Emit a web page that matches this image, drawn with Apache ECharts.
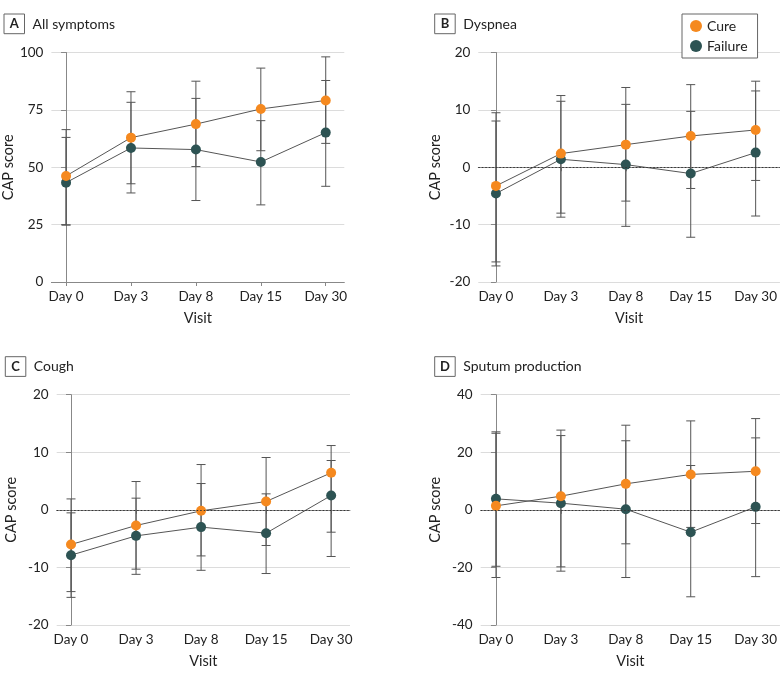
<!DOCTYPE html>
<html>
<head>
<meta charset="utf-8">
<script src="https://cdn.jsdelivr.net/npm/echarts@6/dist/echarts.min.js"></script>
<style>html,body{margin:0;padding:0;background:#fff}#c{width:780px;height:679px}</style>
</head>
<body>
<div id="c"></div>
<script>
const visits = ['Day 0', 'Day 3', 'Day 8', 'Day 15', 'Day 30'];

// Panel A: All symptoms
const cureA = [46.2, 62.9, 68.8, 75.4, 79.1];
const cureALo = [24.9, 42.8, 50.3, 57.2, 60.4];
const cureAHi = [66.4, 82.9, 87.5, 93.2, 98.1];
const failA = [43.3, 58.4, 57.7, 52.3, 65.1];
const failALo = [24.8, 38.8, 35.5, 33.6, 41.7];
const failAHi = [63.0, 78.3, 80.0, 70.3, 87.8];

// Panel B: Dyspnea
const cureB = [-3.25, 2.38, 3.94, 5.45, 6.5];
const cureBLo = [-16.5, -8.0, -5.9, -3.7, -2.3];
const cureBHi = [9.5, 12.5, 13.9, 14.4, 15.0];
const failB = [-4.58, 1.39, 0.46, -1.1, 2.55];
const failBLo = [-17.2, -8.7, -10.3, -12.2, -8.5];
const failBHi = [8.06, 11.5, 10.96, 9.74, 13.3];

// Panel C: Cough
const cureC = [-6.02, -2.72, -0.17, 1.45, 6.43];
const cureCLo = [-14.2, -10.3, -8.0, -6.19, -3.88];
const cureCHi = [1.9, 4.92, 7.87, 9.09, 11.17];
const failC = [-7.87, -4.52, -3.0, -4.05, 2.49];
const failCLo = [-15.2, -11.2, -10.5, -11.06, -8.1];
const failCHi = [-0.52, 2.03, 4.57, 2.78, 8.57];

// Panel D: Sputum production
const cureD = [1.39, 4.75, 9.03, 12.3, 13.4];
const cureDLo = [-23.5, -19.8, -11.8, -6.1, -4.75];
const cureDHi = [26.6, 27.7, 29.4, 30.9, 31.7];
const failD = [3.82, 2.32, 0.23, -7.76, 1.04];
const failDLo = [-19.6, -21.3, -23.5, -30.2, -23.2];
const failDHi = [27.1, 25.8, 24.0, 15.4, 25.0];

const panelLetters = ['A', 'B', 'C', 'D'];
const panelTitles = ['All symptoms', 'Dyspnea', 'Cough', 'Sputum production'];
const yTicks = [[0, 100, 25], [-20, 20, 10], [-20, 20, 10], [-40, 40, 20]];

const ORANGE = '#F5891F', TEAL = '#2D5353', FONT = 'Lato';

const panels = [
  {cure: cureA, cLo: cureALo, cHi: cureAHi, fail: failA, fLo: failALo, fHi: failAHi},
  {cure: cureB, cLo: cureBLo, cHi: cureBHi, fail: failB, fLo: failBLo, fHi: failBHi},
  {cure: cureC, cLo: cureCLo, cHi: cureCHi, fail: failC, fLo: failCLo, fHi: failCHi},
  {cure: cureD, cLo: cureDLo, cHi: cureDHi, fail: failD, fLo: failDLo, fHi: failDHi}
];

const grids = [
  {left: 51, top: 52.5, width: 293.3, height: 229.5},
  {left: 478.3, top: 52.5, width: 301.7, height: 229.5},
  {left: 56.7, top: 394.7, width: 293.3, height: 230.3},
  {left: 480.7, top: 394.7, width: 299.3, height: 230.3}
];
const xRanges = [[-0.226, 4.286], [-0.272, 4.374], [-0.22, 4.29], [-0.235, 4.374]];
const yNameGaps = [31, 35, 38, 37.5];

const xAxes = [], yAxes = [], series = [], graphics = [];
const box = [[4, 14], [434.7, 14], [5.3, 356.7], [434.7, 356.7]];

function errRender(params, api) {
  const x = api.value(0);
  const p1 = api.coord([x, api.value(1)]);
  const p2 = api.coord([x, api.value(2)]);
  const hw = 4.5;
  const st = {stroke: '#555', lineWidth: 1};
  return {
    type: 'group',
    children: [
      {type: 'line', shape: {x1: p1[0], y1: p1[1], x2: p2[0], y2: p2[1]}, style: st},
      {type: 'line', shape: {x1: p1[0] - hw, y1: p1[1], x2: p1[0] + hw, y2: p1[1]}, style: st},
      {type: 'line', shape: {x1: p2[0] - hw, y1: p2[1], x2: p2[0] + hw, y2: p2[1]}, style: st}
    ]
  };
}

panels.forEach((p, i) => {
  const [ymin, ymax, yint] = yTicks[i];
  const nSplit = (ymax - ymin) / yint + 1;
  const splitColors = [];
  for (let k = 0; k < nSplit; k++) {
    const v = ymin + k * yint;
    splitColors.push(v === 0 && ymin < 0 ? 'rgba(0,0,0,0)' : '#dcdcdc');
  }
  xAxes.push({
    type: 'value', gridIndex: i, min: xRanges[i][0], max: xRanges[i][1],
    name: 'Visit', nameLocation: 'middle', nameGap: 29,
    nameTextStyle: {fontFamily: FONT, fontSize: 14.5, color: '#222'},
    axisLine: {show: true, lineStyle: {color: '#888', width: 1}},
    axisTick: {show: true, length: 4, lineStyle: {color: '#888'}, customValues: [0, 1, 2, 3, 4]},
    axisLabel: {fontFamily: FONT, fontSize: 13.5, color: '#222', margin: 8,
      customValues: [0, 1, 2, 3, 4], formatter: v => visits[Math.round(v)]},
    splitLine: {show: false}
  });
  yAxes.push({
    type: 'value', gridIndex: i, min: ymin, max: ymax, interval: yint,
    name: 'CAP score', nameLocation: 'middle', nameRotate: 90, nameGap: yNameGaps[i],
    nameTextStyle: {fontFamily: FONT, fontSize: 14.5, color: '#222'},
    axisLine: {show: true, lineStyle: {color: '#888', width: 1}},
    axisTick: {show: true, length: 5, lineStyle: {color: '#888'}},
    axisLabel: {fontFamily: FONT, fontSize: 13.5, color: '#222', margin: 8},
    splitLine: {show: true, lineStyle: {color: splitColors, width: 1}}
  });
  const failErr = visits.map((v, k) => [k, p.fLo[k], p.fHi[k]]);
  const cureErr = visits.map((v, k) => [k, p.cLo[k], p.cHi[k]]);
  const errSeries = {
    type: 'custom', xAxisIndex: i, yAxisIndex: i, renderItem: errRender,
    data: failErr.concat(cureErr), z: 1, silent: true,
    encode: {x: 0, y: [1, 2]}
  };
  if (ymin < 0) {
    errSeries.markLine = {
      silent: true, symbol: 'none', label: {show: false},
      lineStyle: {type: [1.5, 2], color: '#333', width: 1},
      data: [{yAxis: 0}]
    };
  }
  series.push(errSeries);
  series.push({
    name: 'Failure', type: 'line', xAxisIndex: i, yAxisIndex: i, z: 3,
    data: p.fail.map((v, k) => [k, v]), symbol: 'circle', symbolSize: 10,
    lineStyle: {color: '#555', width: 1}, itemStyle: {color: TEAL, borderWidth: 0}
  });
  series.push({
    name: 'Cure', type: 'line', xAxisIndex: i, yAxisIndex: i, z: 4,
    data: p.cure.map((v, k) => [k, v]), symbol: 'circle', symbolSize: 10,
    lineStyle: {color: '#555', width: 1}, itemStyle: {color: ORANGE, borderWidth: 0}
  });
  const [bx, by] = box[i];
  graphics.push({type: 'rect', shape: {x: bx, y: by, width: 20.5, height: 19.7},
    style: {fill: '#fff', stroke: '#666', lineWidth: 1}});
  graphics.push({type: 'text', x: bx + 10.25, y: by + 10.3,
    style: {text: panelLetters[i], font: 'bold 13px ' + FONT, fill: '#222', align: 'center', verticalAlign: 'middle'}});
  graphics.push({type: 'text', x: bx + 28.5, y: by + 10,
    style: {text: panelTitles[i], font: '14px ' + FONT, fill: '#222', align: 'left', verticalAlign: 'middle'}});
});

const chart = echarts.init(document.getElementById('c'));
chart.setOption({
  animation: false,
  grid: grids,
  xAxis: xAxes,
  yAxis: yAxes,
  series: series,
  graphic: graphics,
  legend: {
    data: ['Cure', 'Failure'], orient: 'vertical', left: 682, top: 14,
    backgroundColor: '#fff', borderColor: '#666', borderWidth: 1,
    padding: [5, 10, 5, 8], itemGap: 6, itemWidth: 12, itemHeight: 12,
    icon: 'circle', textStyle: {fontFamily: FONT, fontSize: 14, color: '#222'},
    selectedMode: false
  }
});
</script>
</body>
</html>
